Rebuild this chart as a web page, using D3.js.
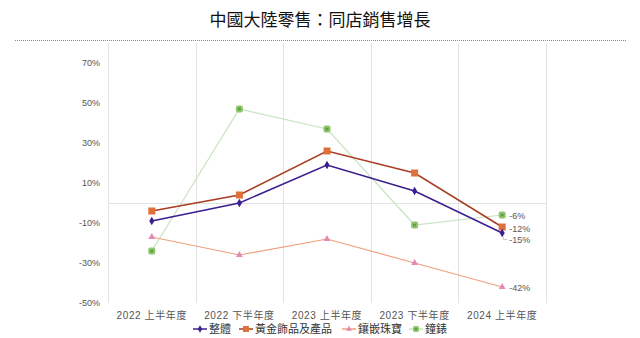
<!DOCTYPE html>
<html><head><meta charset="utf-8">
<script src="https://cdn.jsdelivr.net/npm/d3@7"></script>
<style>
body{margin:0;background:#fff;}
text{font-family:"Liberation Sans","Noto Sans CJK TC",sans-serif;}
</style></head>
<body><svg id="c" width="640" height="338"></svg>
<script>
const title = "中國大陸零售：同店銷售增長";
const categories = ["2022 上半年度","2022 下半年度","2023 上半年度","2023 下半年度","2024 上半年度"];
const seriesNames = ["整體","黃金飾品及產品","鑲嵌珠寶","鐘錶"];
const overall = [-9, 0, 19, 6, -15];
const gold = [-4, 4, 26, 15, -12];
const gem = [-17, -26, -18, -30, -42];
const watches = [-24, 47, 37, -11, -6];
const yTicks = [-50, -30, -10, 10, 30, 50, 70];
const endLabels = ["-15%","-12%","-42%","-6%"];

const svg = d3.select("#c");
const plot = {left:108, right:546, top:43, bottom:303};
const x = d3.scaleBand().domain(categories).range([plot.left, plot.right]);
const y = d3.scaleLinear().domain([-50, 80]).range([plot.bottom, plot.top]);

// title
svg.append("text").attr("x", 320).attr("y", 26).attr("text-anchor","middle")
  .attr("font-family","'Noto Sans CJK TC',sans-serif").attr("font-size",17).attr("fill","#111").text(title);
svg.append("line").attr("x1",15).attr("x2",627).attr("y1",40.5).attr("y2",40.5)
  .attr("stroke","#888").attr("stroke-dasharray","1,1");

// vertical gridlines (category boundaries)
const bounds = categories.map(c => x(c)).concat([x(categories[categories.length-1]) + x.bandwidth()]);
svg.append("g").selectAll("line").data(bounds).join("line")
  .attr("x1", d=>Math.round(d)+0.5).attr("x2", d=>Math.round(d)+0.5)
  .attr("y1", plot.top).attr("y2", plot.bottom).attr("stroke","#e3e3e3");
// zero line
svg.append("line").attr("x1",plot.left).attr("x2",plot.right)
  .attr("y1",Math.round(y(0))+0.5).attr("y2",Math.round(y(0))+0.5).attr("stroke","#e3e3e3");

// y axis labels
const yAxis = d3.axisLeft(y).tickValues(yTicks).tickFormat(d=>d+"%").tickSize(0).tickPadding(8);
const ga = svg.append("g").attr("transform",`translate(${plot.left},0)`).call(yAxis);
ga.select(".domain").remove();
ga.selectAll("text").attr("font-size",9).attr("fill","#555").attr("font-family","'Liberation Sans',sans-serif");

// x axis labels
const xAxis = d3.axisBottom(x).tickSize(0).tickPadding(9);
const gx = svg.append("g").attr("transform",`translate(0,${plot.bottom})`).call(xAxis);
gx.select(".domain").remove();
gx.selectAll("text").attr("font-size",10).attr("fill","#555").attr("letter-spacing","0.6px")
  .attr("font-family","'Liberation Sans','Noto Sans CJK TC',sans-serif");

const cx = c => x(c) + x.bandwidth()/2;
const series = [
  {name:seriesNames[0], values:overall, line:"#3b1d8f", stroke:1.5, marker:"diamond", fill:"#3b1d8f"},
  {name:seriesNames[1], values:gold, line:"#a83d22", stroke:1.5, marker:"square", fill:"#e0703a"},
  {name:seriesNames[2], values:gem, line:"#f0a07c", stroke:1.2, marker:"triangle", fill:"#e58ab3"},
  {name:seriesNames[3], values:watches, line:"#c9e2c2", stroke:1.2, marker:"circle", fill:"#8cc56a"}
];
const drawOrder = [3,2,1,0];
const line = d3.line().x((d,i)=>cx(categories[i])).y(d=>y(d));
function marker(g, type, fill, px, py, s){
  if(type==="square") g.append("rect").attr("x",px-3.5*s).attr("y",py-3.5*s).attr("width",7*s).attr("height",7*s).attr("fill",fill);
  else if(type==="diamond") g.append("path").attr("d",d3.symbol(d3.symbolDiamond, 22*s*s)()).attr("transform",`translate(${px},${py})`).attr("fill",fill);
  else if(type==="triangle") g.append("path").attr("d",d3.symbol(d3.symbolTriangle, 20*s*s)()).attr("transform",`translate(${px},${py})`).attr("fill",fill);
  else { g.append("rect").attr("x",px-3.5*s).attr("y",py-3.5*s).attr("width",7*s).attr("height",7*s).attr("rx",2*s).attr("fill",fill);
         g.append("circle").attr("cx",px).attr("cy",py).attr("r",1.6*s).attr("fill","#5e9e45"); }
}
drawOrder.forEach(k=>{
  const s = series[k];
  const g = svg.append("g");
  g.append("path").datum(s.values).attr("d",line).attr("fill","none").attr("stroke",s.line).attr("stroke-width",s.stroke);
  s.values.forEach((v,i)=> marker(g, s.marker, s.fill, cx(categories[i]), y(v), 1));
});

// end labels
const lastX = cx(categories[4]);
const lab = svg.append("g").attr("font-size",9).attr("fill","#555");
lab.append("text").attr("x",lastX+7).attr("y",y(watches[4])+3.5).text(endLabels[3]);
lab.append("text").attr("x",lastX+7).attr("y",y(gold[4])+4.5).text(endLabels[1]);
lab.append("path").attr("d",`M${lastX+1},${y(overall[4])+3} L${lastX+1},${y(overall[4])+6.5} L${lastX+5},${y(overall[4])+6.5}`)
  .attr("fill","none").attr("stroke","#bbb").attr("stroke-width",0.8);
lab.append("text").attr("x",lastX+7).attr("y",y(overall[4])+10).text(endLabels[0]);
lab.append("text").attr("x",lastX+7).attr("y",y(gem[4])+3.5).text(endLabels[2]);

// legend
const legX = [193, 239, 342, 409];
const legY = 329;
series.forEach((s,i)=>{
  const g = svg.append("g");
  g.append("line").attr("x1",legX[i]).attr("x2",legX[i]+14).attr("y1",legY).attr("y2",legY).attr("stroke",s.line).attr("stroke-width",1.5);
  marker(g, s.marker, s.fill, legX[i]+7, legY, 0.85);
  g.append("text").attr("x",legX[i]+16).attr("y",legY+4).attr("font-size",11).attr("fill","#333")
    .attr("font-family","'Noto Sans CJK TC',sans-serif").text(s.name);
});
</script></body></html>
